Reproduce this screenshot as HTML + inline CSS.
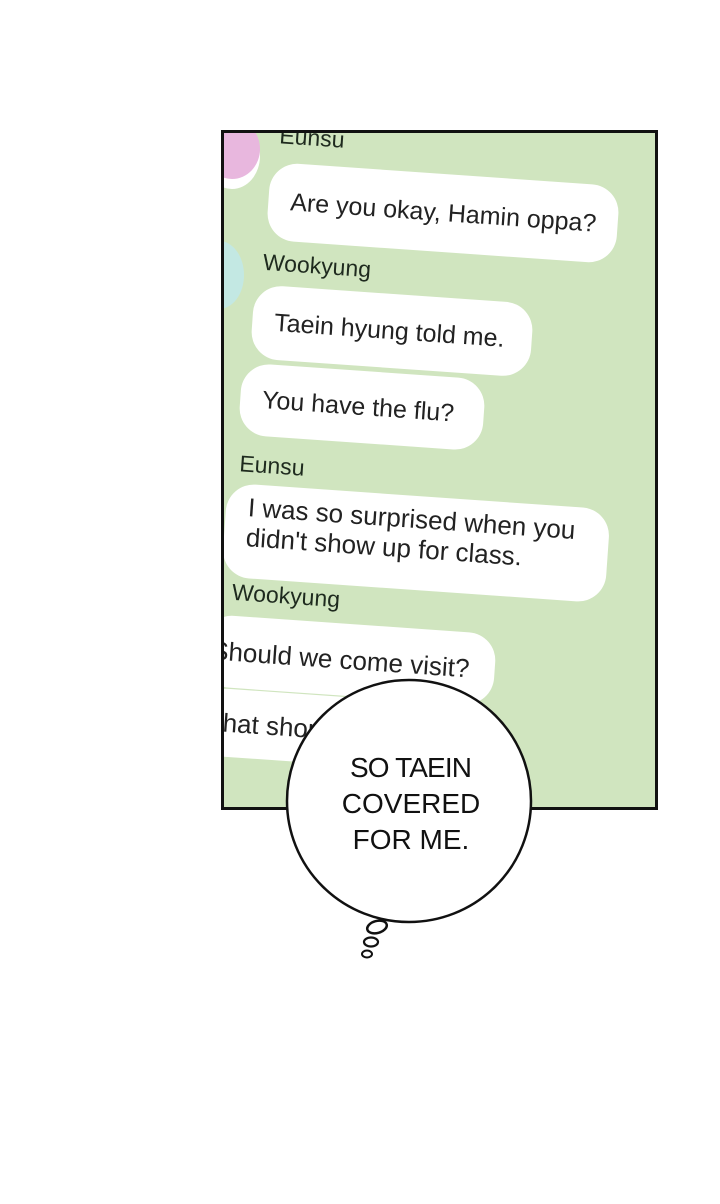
<!DOCTYPE html>
<html><head><meta charset="utf-8"><style>
body{margin:0;width:720px;height:1204px;background:#fff;position:relative;overflow:hidden;font-family:"Liberation Sans",sans-serif}
#p{position:absolute;left:221px;top:130px;width:431px;height:674px;border:3px solid #111;background:#d0e5bf;overflow:hidden}
.b,.l{position:absolute;transform:translate(-50%,-50%) rotate(4deg);white-space:nowrap;color:#222}
.b{background:#fff;border-radius:28px;font-size:25px;line-height:30px;padding:0 22px}
.l{font-size:23px;color:#1e2a1e}
</style></head><body>
<div id="p">
 <div style="position:absolute;left:-20px;top:-10px;width:56px;height:66px;border-radius:50%;background:#fff"></div>
 <div style="position:absolute;left:-20px;top:-14px;width:56px;height:60px;border-radius:50%;background:#e8b7de"></div>
 <div style="position:absolute;left:-30px;top:108px;width:50px;height:68px;border-radius:50%;background:#c3e8e3"></div>
 <div class="l" style="left:88px;top:5px">Eunsu</div>
 <div class="b" style="left:219px;top:80px;height:78px;line-height:78px;width:306px">Are you okay, Hamin oppa?</div>
 <div class="l" style="left:93px;top:133px">Wookyung</div>
 <div class="b" style="left:168px;top:198px;height:74px;line-height:74px;width:236px">Taein hyung told me.</div>
 <div class="b" style="left:138px;top:274px;height:72px;line-height:72px;width:200px">You have the flu?</div>
 <div class="l" style="left:48px;top:333px">Eunsu</div>
 <div class="b" style="left:192px;top:410px;height:86px;padding-top:8px;width:340px;font-size:26px">I was so surprised when you<br>didn't show up for class.</div>
 <div class="l" style="left:62px;top:463px">Wookyung</div>
 <div class="b" style="left:125px;top:527px;height:72px;line-height:72px;width:262px;padding-left:8px;font-size:26px">Should we come visit?</div>
 <div class="b" style="left:120px;top:598px;height:68px;line-height:68px;width:270px;padding-left:0;font-size:26px">What should we bring?</div>
</div>
<svg style="position:absolute;left:0;top:0" width="720" height="1204">
 <ellipse cx="409" cy="801" rx="122" ry="121" fill="#fff" stroke="#111" stroke-width="2.5"/>
 <ellipse cx="377" cy="927" rx="10" ry="6" fill="#fff" stroke="#111" stroke-width="2.5" transform="rotate(-15 377 927)"/>
 <ellipse cx="371" cy="942" rx="7" ry="4.5" fill="#fff" stroke="#111" stroke-width="2.2"/>
 <ellipse cx="367" cy="954" rx="5" ry="3.5" fill="#fff" stroke="#111" stroke-width="2"/>
 <g font-family="Liberation Sans, sans-serif" font-size="28" fill="#111" text-anchor="middle">
  <text x="411" y="777" textLength="122">SO TAEIN</text>
  <text x="411" y="813">COVERED</text>
  <text x="411" y="849">FOR ME.</text>
 </g>
</svg>
</body></html>
